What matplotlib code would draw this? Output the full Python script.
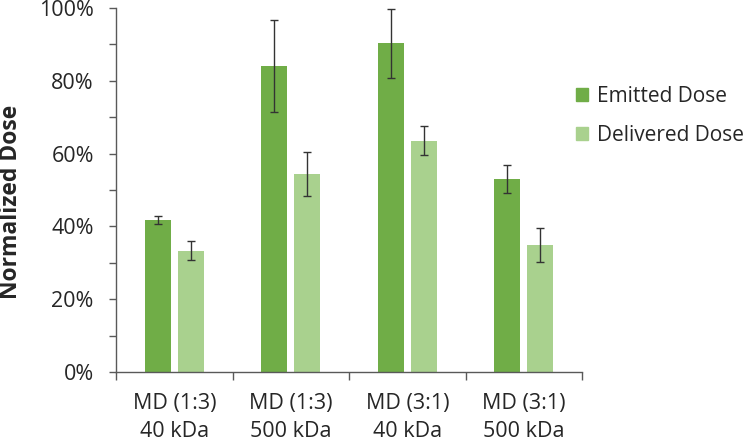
import numpy as np
import matplotlib.pyplot as plt
from matplotlib.patches import Patch
from matplotlib.ticker import MultipleLocator, FixedLocator, PercentFormatter

plt.rcParams['font.family'] = ['Open Sans', 'DejaVu Sans']

# --- data ---
categories = ["MD (1:3)\n40 kDa", "MD (1:3)\n500 kDa", "MD (3:1)\n40 kDa", "MD (3:1)\n500 kDa"]
emitted = [41.7, 84.0, 90.3, 52.9]
emitted_err = [1.1, 12.6, 9.5, 3.85]
delivered = [33.3, 54.4, 63.6, 34.9]
delivered_err = [2.65, 6.1, 3.85, 4.6]

c_emit = "#70ad47"
c_deliv = "#a9d18e"
txt = "#262626"
axis_col = "#595959"
fs = 15.5

fig = plt.figure(figsize=(7.49, 4.45), dpi=100)
ax = fig.add_axes([0.155, 0.164, 0.622, 0.818])

x = np.arange(len(categories))
w = 0.225
off = 0.142
ax.bar(x - off, emitted, w, color=c_emit, zorder=2)
ax.bar(x + off, delivered, w, color=c_deliv, zorder=2)
ax.errorbar(x - off, emitted, yerr=emitted_err, fmt='none', ecolor='#333333',
            elinewidth=1, capsize=3, capthick=1, zorder=3)
ax.errorbar(x + off, delivered, yerr=delivered_err, fmt='none', ecolor='#333333',
            elinewidth=1, capsize=3, capthick=1, zorder=3)

ax.set_xlim(-0.5, len(categories) - 0.5)
ax.set_ylim(0, 100)

ax.yaxis.set_major_locator(MultipleLocator(20))
ax.yaxis.set_minor_locator(MultipleLocator(10))
ax.yaxis.set_major_formatter(PercentFormatter(decimals=0))
ax.tick_params(axis='y', which='both', direction='out', length=5, width=1,
               color=axis_col, labelsize=fs, labelcolor=txt, pad=11)

ax.set_xticks(x)
ax.set_xticklabels(categories, linespacing=1.45)
ax.xaxis.set_minor_locator(FixedLocator(np.arange(-0.5, len(categories), 1.0)))
ax.tick_params(axis='x', which='major', length=0, labelsize=fs, labelcolor=txt, pad=15)
ax.tick_params(axis='x', which='minor', direction='out', length=6, width=1, color=axis_col)

for s in ['top', 'right']:
    ax.spines[s].set_visible(False)
for s in ['left', 'bottom']:
    ax.spines[s].set_color(axis_col)
    ax.spines[s].set_linewidth(1)

fig.text(11 / 749, 1 - 202 / 445, "Normalized Dose", rotation=90, ha='center', va='center',
         fontsize=16.5, fontweight='bold', color=txt)

handles = [Patch(color=c_emit, label="Emitted Dose"), Patch(color=c_deliv, label="Delivered Dose")]
fig.legend(handles=handles, loc='upper left', bbox_to_anchor=(0.769, 0.806), frameon=False,
           fontsize=15, handlelength=0.58, handleheight=0.58, handletextpad=0.45,
           labelspacing=0.85, borderpad=0, borderaxespad=0, labelcolor=txt)

fig.savefig("out.png", dpi=100)
